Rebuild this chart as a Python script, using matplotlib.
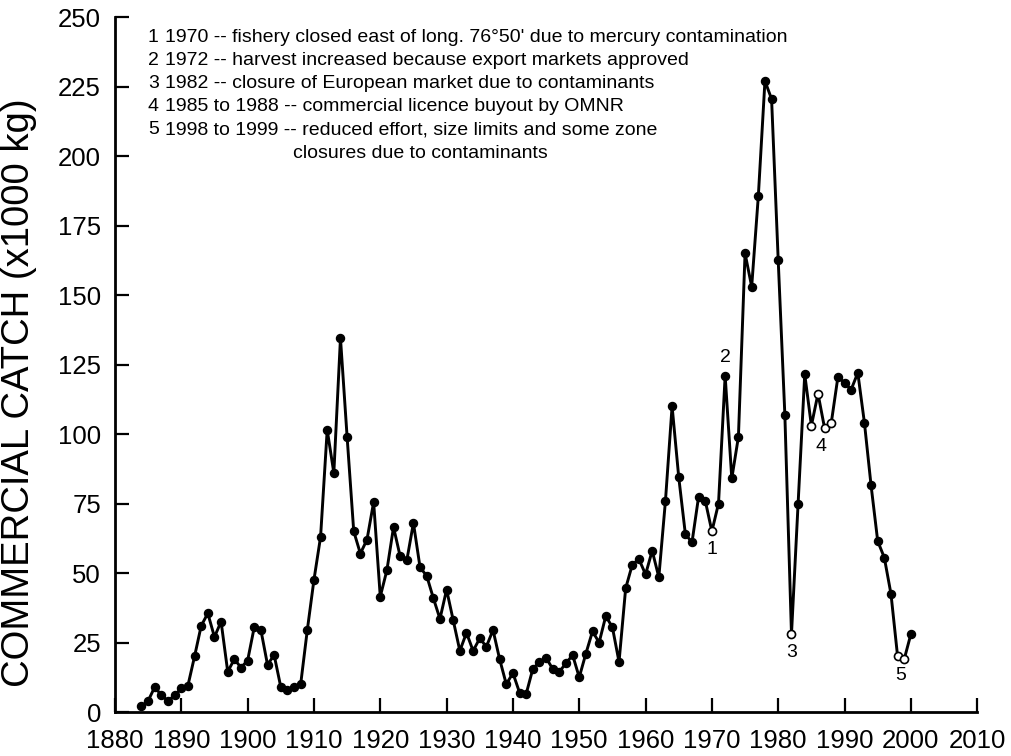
import numpy as np
import matplotlib
matplotlib.use("Agg")
import matplotlib.pyplot as plt

plt.rcParams['font.family'] = ['Liberation Sans', 'DejaVu Sans']

# commercial catch, x1000 kg, one value per year 1884-2000
years = list(range(1884, 2001))
catch = [
    2, 4, 9, 6, 4, 6, 8.5, 9.5, 20, 31,            # 1884-1893
    35.5, 27, 32.5, 14.5, 19, 16, 18.5, 30.5, 29.5, 17,  # 1894-1903
    20.5, 9, 8, 9, 10, 29.5, 47.5, 63, 101.5, 86,  # 1904-1913
    134.5, 99, 65, 57, 62, 75.5, 41.5, 51, 66.5, 56,  # 1914-1923
    54.5, 68, 52, 49, 41, 33.5, 44, 33, 22, 28.5,  # 1924-1933
    22, 26.5, 23.5, 29.5, 19, 10, 14, 7, 6.5, 15.5,  # 1934-1943
    18, 19.5, 15.5, 14.5, 17.5, 20.5, 12.5, 21, 29, 25,  # 1944-1953
    34.5, 30.5, 18, 44.5, 53, 55, 49.5, 58, 48.5, 76,  # 1954-1963
    110, 84.5, 64, 61, 77.5, 76, 65, 75, 121, 84,  # 1964-1973
    99, 165, 153, 185.5, 227, 220.5, 162.5, 107, 28, 75,  # 1974-1983
    121.5, 103, 114.5, 102, 104, 120.5, 118.5, 116, 122, 104,  # 1984-1993
    81.5, 61.5, 55.5, 42.5, 20, 19, 28,            # 1994-2000
]

# years drawn with open symbols (management events)
open_years = [1970, 1982, 1985, 1986, 1987, 1988, 1998, 1999]

# event numbers and where they sit
event_labels = ['1', '2', '3', '4', '5']
event_years = [1970, 1972, 1982, 1986.5, 1998.5]
event_values = [65, 121, 28, 102, 19.5]
event_offsets = [(0, -13), (0, 13), (0, -13), (0, -13), (0, -13)]

notes = [
    ('1', '1970 -- fishery closed east of long. 76\u00b050\' due to mercury contamination'),
    ('2', '1972 -- harvest increased because export markets approved'),
    ('3', '1982 -- closure of European market due to contaminants'),
    ('4', '1985 to 1988 -- commercial licence buyout by OMNR'),
    ('5', '1998 to 1999 -- reduced effort, size limits and some zone'),
]
note_cont = 'closures due to contaminants'

x = np.array(years)
y = np.array(catch, dtype=float)
is_open = np.isin(x, open_years)

fig = plt.figure(figsize=(10.12, 7.56), dpi=100)
ax = fig.add_axes([0.1136, 0.0582, 0.852, 0.9193])

ax.plot(x, y, color='black', linewidth=2.1, zorder=2)
ax.plot(x[~is_open], y[~is_open], linestyle='none', marker='o', markersize=5.8,
        color='black', zorder=3)
ax.plot(x[is_open], y[is_open], linestyle='none', marker='o', markersize=5.8,
        markerfacecolor='white', markeredgecolor='black', markeredgewidth=1.2, zorder=4)

for lab, yr, val, off in zip(event_labels, event_years, event_values, event_offsets):
    ax.annotate(lab, xy=(yr, val), xytext=off, textcoords='offset points',
                ha='center', va='center', fontsize=14)

ax.set_xlim(1880, 2010)
ax.set_ylim(0, 250)
ax.set_xticks(range(1880, 2011, 10))
ax.set_yticks(range(0, 251, 25))
ax.tick_params(direction='in', length=10, width=1.6, labelsize=18.5, pad=10)
ax.tick_params(axis='x', pad=12)
ax.spines['top'].set_visible(False)
ax.spines['right'].set_visible(False)
ax.spines['left'].set_linewidth(2.0)
ax.spines['bottom'].set_linewidth(2.0)
ax.set_ylabel('COMMERCIAL CATCH (x1000 kg)', fontsize=27.5)
ax.yaxis.set_label_coords(-0.09, 0.46)

# notes block in the top left
for i, (num, txt) in enumerate(notes):
    ty = 0.951 - i * 0.0307
    fig.text(0.146, ty, num, fontsize=14, va='center')
    fig.text(0.163, ty, txt, fontsize=14, va='center')
fig.text(0.29, 0.951 - 5 * 0.0307, note_cont, fontsize=14, va='center')

fig.savefig('out.png', dpi=100)
